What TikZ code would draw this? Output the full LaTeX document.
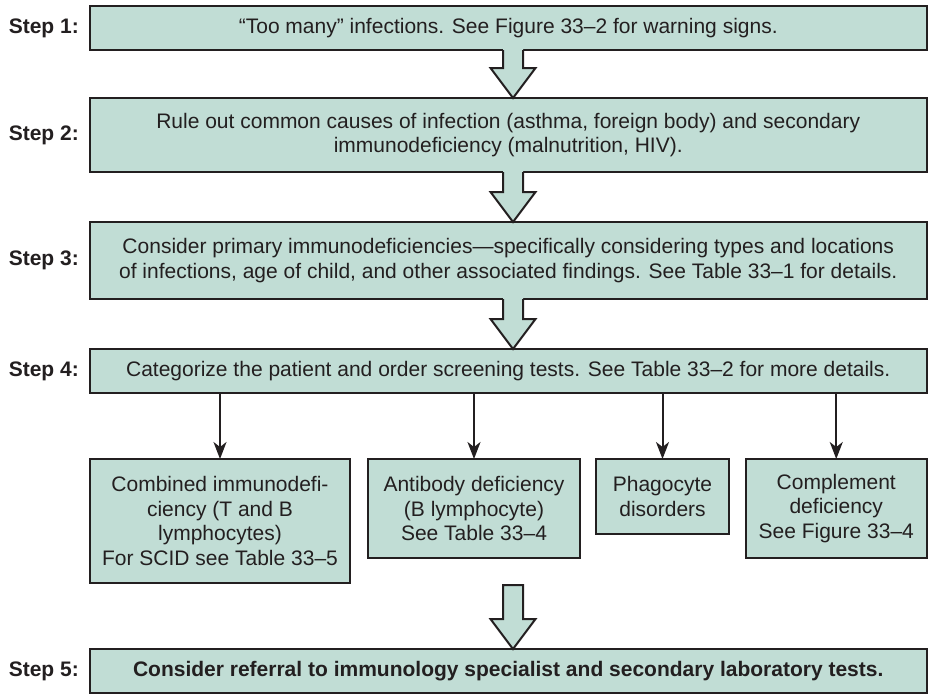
\documentclass[tikz,border=0pt]{standalone}
\usepackage{fontspec}
\setmainfont{Liberation Sans}
\usetikzlibrary{arrows.meta,calc}
\definecolor{boxfill}{RGB}{193,221,213}
\definecolor{ink}{RGB}{35,31,32}
\newcommand\joinarrow[2]{%
  \path (#1.south -| ax) coordinate (jt) (#2.north -| ax) coordinate (jb);
  \fill[boxfill] ($(jt)+(-10,-1.6)$) -- ($(jb)+(-10,-30)$) -- ($(jb)+(-22.5,-30)$) -- (jb)
     -- ($(jb)+(22.5,-30)$) -- ($(jb)+(10,-30)$) -- ($(jt)+(10,-1.6)$) -- cycle;
  \draw[barrow] ($(jt)+(-10,0)$) -- ($(jb)+(-10,-30)$) -- ($(jb)+(-22.5,-30)$) -- (jb)
     -- ($(jb)+(22.5,-30)$) -- ($(jb)+(10,-30)$) -- ($(jt)+(10,0)$);
}
\begin{document}
\begin{tikzpicture}[x=1pt,y=-1pt,
  box/.style={draw=ink, line width=2pt, fill=boxfill, inner sep=0pt, outer sep=0pt,
    align=center, text=ink, font=\fontsize{21}{24.8}\selectfont},
  wide/.style={box, minimum width=836.5pt},
  steplabel/.style={anchor=east, inner sep=0pt, text=ink,
    font=\fontsize{21}{24.8}\selectfont\bfseries},
  conn/.style={draw=ink, line width=2pt, -{Stealth[length=17pt,width=13pt,inset=5pt]}},
  barrow/.style={draw=ink, line width=2pt, line join=miter}
]
\useasboundingbox (0,0) rectangle (928,694);
\coordinate (ax) at (513,0);

% step boxes
\node[wide, minimum height=44pt] (s1) at (508.25,28)
  {“Too many” infections. See Figure 33–2 for warning signs.};
\node[wide, minimum height=74pt] (s2) at (508.25,135)
  {Rule out common causes of infection (asthma, foreign body) and secondary\\
   immunodeficiency (malnutrition, HIV).};
\node[wide, minimum height=77pt] (s3) at (508.25,260.5)
  {Consider primary immunodeficiencies—specifically considering types and locations\\
   of infections, age of child, and other associated findings. See Table 33–1 for details.};
\node[wide, minimum height=44pt] (s4) at (508.25,371)
  {Categorize the patient and order screening tests. See Table 33–2 for more details.};
\node[wide, minimum height=44pt, font=\fontsize{21}{24.8}\selectfont\bfseries] (s5) at (508.25,671)
  {Consider referral to immunology specialist and secondary laboratory tests.};

% step labels
\node[steplabel] (l1) at (79,28) {Step 1:};
\node[steplabel] (l2) at (79,135) {Step 2:};
\node[steplabel] (l3) at (79,260.5) {Step 3:};
\node[steplabel] (l4) at (79,371) {Step 4:};
\node[steplabel] (l5) at (79,671) {Step 5:};

% category boxes
\node[box, minimum width=260pt, minimum height=124pt] (c1) at (220,521)
  {Combined immunodefi-\\ciency (T and B\\lymphocytes)\\For SCID see Table 33–5};
\node[box, minimum width=212pt, minimum height=99pt] (c2) at (474,508.5)
  {Antibody deficiency\\(B lymphocyte)\\See Table 33–4};
\node[box, minimum width=133pt, minimum height=75pt] (c3) at (662.5,496.5)
  {Phagocyte\\disorders};
\node[box, minimum width=180.5pt, minimum height=99pt] (c4) at (836.25,508.5)
  {Complement\\deficiency\\See Figure 33–4};

% thin connectors
\foreach \c in {c1,c2,c3,c4}
  \draw[conn] (s4.south -| \c.north) -- (\c.north);

% block arrows between steps
\joinarrow{s1}{s2}
\joinarrow{s2}{s3}
\joinarrow{s3}{s4}

% final block arrow
\coordinate (ft) at (513,585);
\path (s5.north -| ax) coordinate (fb);
\filldraw[barrow, fill=boxfill] ($(ft)+(-10,0)$) -- ($(fb)+(-10,-30)$) -- ($(fb)+(-22.5,-30)$) -- (fb)
   -- ($(fb)+(22.5,-30)$) -- ($(fb)+(10,-30)$) -- ($(ft)+(10,0)$) -- cycle;
\end{tikzpicture}
\end{document}
